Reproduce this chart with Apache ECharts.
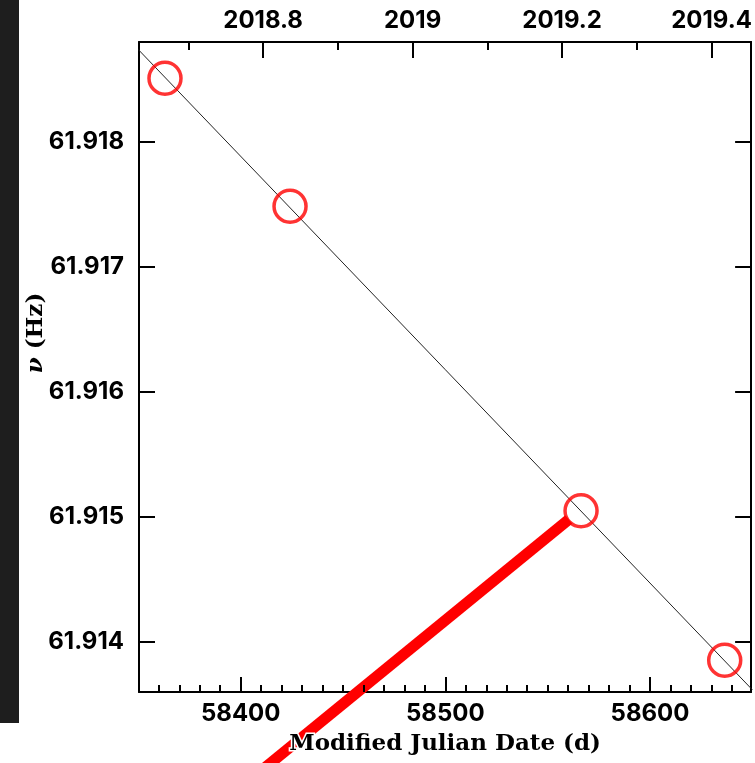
<!DOCTYPE html>
<html>
<head>
<meta charset="utf-8">
<style>
  html, body { margin: 0; padding: 0; background: #ffffff; }
  #chart { width: 755px; height: 763px; }
</style>
<script src="https://cdn.jsdelivr.net/npm/echarts@6/dist/echarts.min.js"></script>
</head>
<body>
<div id="chart"></div>
<script>
// Spin frequency measurements (MJD, Hz)
const mjd = [58363.0, 58424.1, 58566.3, 58636.5];
const nu  = [61.91851, 61.917486, 61.91505, 61.913854];

// Linear spin-down fit, evaluated at the ends of the time span
const fitMjd = [58350, 58650];
const fitNu  = [61.918739, 61.913618];

// Hand-drawn red pointer leading to the third measurement
const pointerMjd = [58560.3, 58411.5];
const pointerNu  = [61.91498, 61.91299];

// Axis ranges and ticks
const mjdMin = 58350.3, mjdMax = 58649.4;
const nuMin = 61.9136, nuMax = 61.9188;
const mjdMajor = [58400, 58500, 58600];
const mjdMinorStep = 10;
const nuTicks = [61.914, 61.915, 61.916, 61.917, 61.918];
const yearMajor = [2018.8, 2019.0, 2019.2, 2019.4];
const yearLabels = ['2018.8', '2019', '2019.2', '2019.4'];
const yearMinor = [2018.7, 2018.9, 2019.1, 2019.3];

// Calendar year -> MJD (2019.0 = MJD 58484)
const yearToMjd = y => 58484 + (y - 2019) * 365.25;

const mjdMinor = [];
for (let v = Math.ceil(mjdMin / mjdMinorStep) * mjdMinorStep; v <= mjdMax; v += mjdMinorStep) {
  if (mjdMajor.indexOf(v) < 0) mjdMinor.push(v);
}
const yearMajorMjd = yearMajor.map(yearToMjd);
const yearMinorMjd = yearMinor.map(yearToMjd);

const tickFont = { fontFamily: 'Inter', fontWeight: 'bold', fontSize: 24, color: '#000' };
const titleFont = 'DejaVu Serif';
const frame = { show: true, lineStyle: { color: '#000', width: 2 } };
const noLine = { show: false };

function tickStyle(len) {
  return { show: true, inside: true, length: len, lineStyle: { color: '#000', width: 2 } };
}

const chart = echarts.init(document.getElementById('chart'), null, { renderer: 'canvas' });

chart.setOption({
  animation: false,
  backgroundColor: '#ffffff',
  grid: { left: 139, right: 2, top: 42, bottom: 71 },
  graphic: [
    {
      type: 'rect', left: 0, top: 0, z: -10,
      shape: { width: 19, height: 723 },
      style: { fill: '#1e1e1e' }
    },
    { // y-axis title
      type: 'text', x: 36, y: 333, rotation: Math.PI / 2, z: 10,
      style: {
        text: '{i|ν} (Hz)', align: 'center', verticalAlign: 'middle',
        fontFamily: titleFont, fontWeight: 'bold', fontSize: 23, fill: '#000',
        rich: { i: { fontFamily: titleFont, fontStyle: 'italic', fontWeight: 'bold', fontSize: 23, fill: '#000' } }
      }
    }
  ],
  xAxis: [
    { // bottom: MJD, major ticks + labels
      type: 'value', position: 'bottom', min: mjdMin, max: mjdMax,
      axisLine: frame, splitLine: { show: false },
      axisTick: Object.assign(tickStyle(15), { customValues: mjdMajor }),
      axisLabel: Object.assign({ customValues: mjdMajor, margin: 10, formatter: v => String(Math.round(v)) }, tickFont)
    },
    { // bottom: minor ticks and axis title
      type: 'value', position: 'bottom', min: mjdMin, max: mjdMax, z: 10,
      axisLine: noLine, splitLine: { show: false },
      axisTick: Object.assign(tickStyle(7), { customValues: mjdMinor }),
      axisLabel: { show: false },
      name: 'Modified Julian Date (d)', nameLocation: 'middle', nameGap: 41,
      nameTextStyle: {
        fontFamily: titleFont, fontWeight: 'bold', fontSize: 23, color: '#000',
        textBorderColor: '#ffffff', textBorderWidth: 3
      }
    },
    { // top: calendar year, major ticks + labels
      type: 'value', position: 'top', min: mjdMin, max: mjdMax,
      axisLine: frame, splitLine: { show: false },
      axisTick: Object.assign(tickStyle(16), { customValues: yearMajorMjd }),
      axisLabel: Object.assign({
        customValues: yearMajorMjd, margin: 9,
        formatter: v => {
          let best = 0;
          yearMajorMjd.forEach((m, i) => { if (Math.abs(m - v) < Math.abs(yearMajorMjd[best] - v)) best = i; });
          return yearLabels[best];
        }
      }, tickFont)
    },
    { // top: minor year ticks
      type: 'value', position: 'top', min: mjdMin, max: mjdMax,
      axisLine: noLine, splitLine: { show: false },
      axisTick: Object.assign(tickStyle(8), { customValues: yearMinorMjd }),
      axisLabel: { show: false }
    }
  ],
  yAxis: [
    {
      type: 'value', position: 'left', min: nuMin, max: nuMax,
      axisLine: frame, splitLine: { show: false },
      axisTick: Object.assign(tickStyle(16), { customValues: nuTicks }),
      axisLabel: Object.assign({ customValues: nuTicks, margin: 15, formatter: v => v.toFixed(3) }, tickFont)
    },
    {
      type: 'value', position: 'right', min: nuMin, max: nuMax,
      axisLine: frame, splitLine: { show: false },
      axisTick: Object.assign(tickStyle(16), { customValues: nuTicks }),
      axisLabel: { show: false }
    }
  ],
  series: [
    {
      name: 'fit', type: 'line', xAxisIndex: 0, yAxisIndex: 0,
      data: fitMjd.map((x, i) => [x, fitNu[i]]),
      showSymbol: false, symbol: 'none', clip: true, z: 3,
      lineStyle: { color: '#222', width: 1 }
    },
    {
      name: 'nu', type: 'scatter', xAxisIndex: 0, yAxisIndex: 0,
      data: mjd.map((x, i) => [x, nu[i]]),
      symbol: 'circle', symbolSize: 32, z: 4,
      itemStyle: { color: 'rgba(0,0,0,0)', borderColor: '#ff0000', borderWidth: 3.5 }
    },
    {
      name: 'pointer', type: 'line', xAxisIndex: 0, yAxisIndex: 0,
      data: pointerMjd.map((x, i) => [x, pointerNu[i]]),
      showSymbol: false, symbol: 'none', clip: false, z: 5,
      lineStyle: { color: '#ff0000', width: 11, cap: 'butt' }
    }
  ]
});
</script>
</body>
</html>
